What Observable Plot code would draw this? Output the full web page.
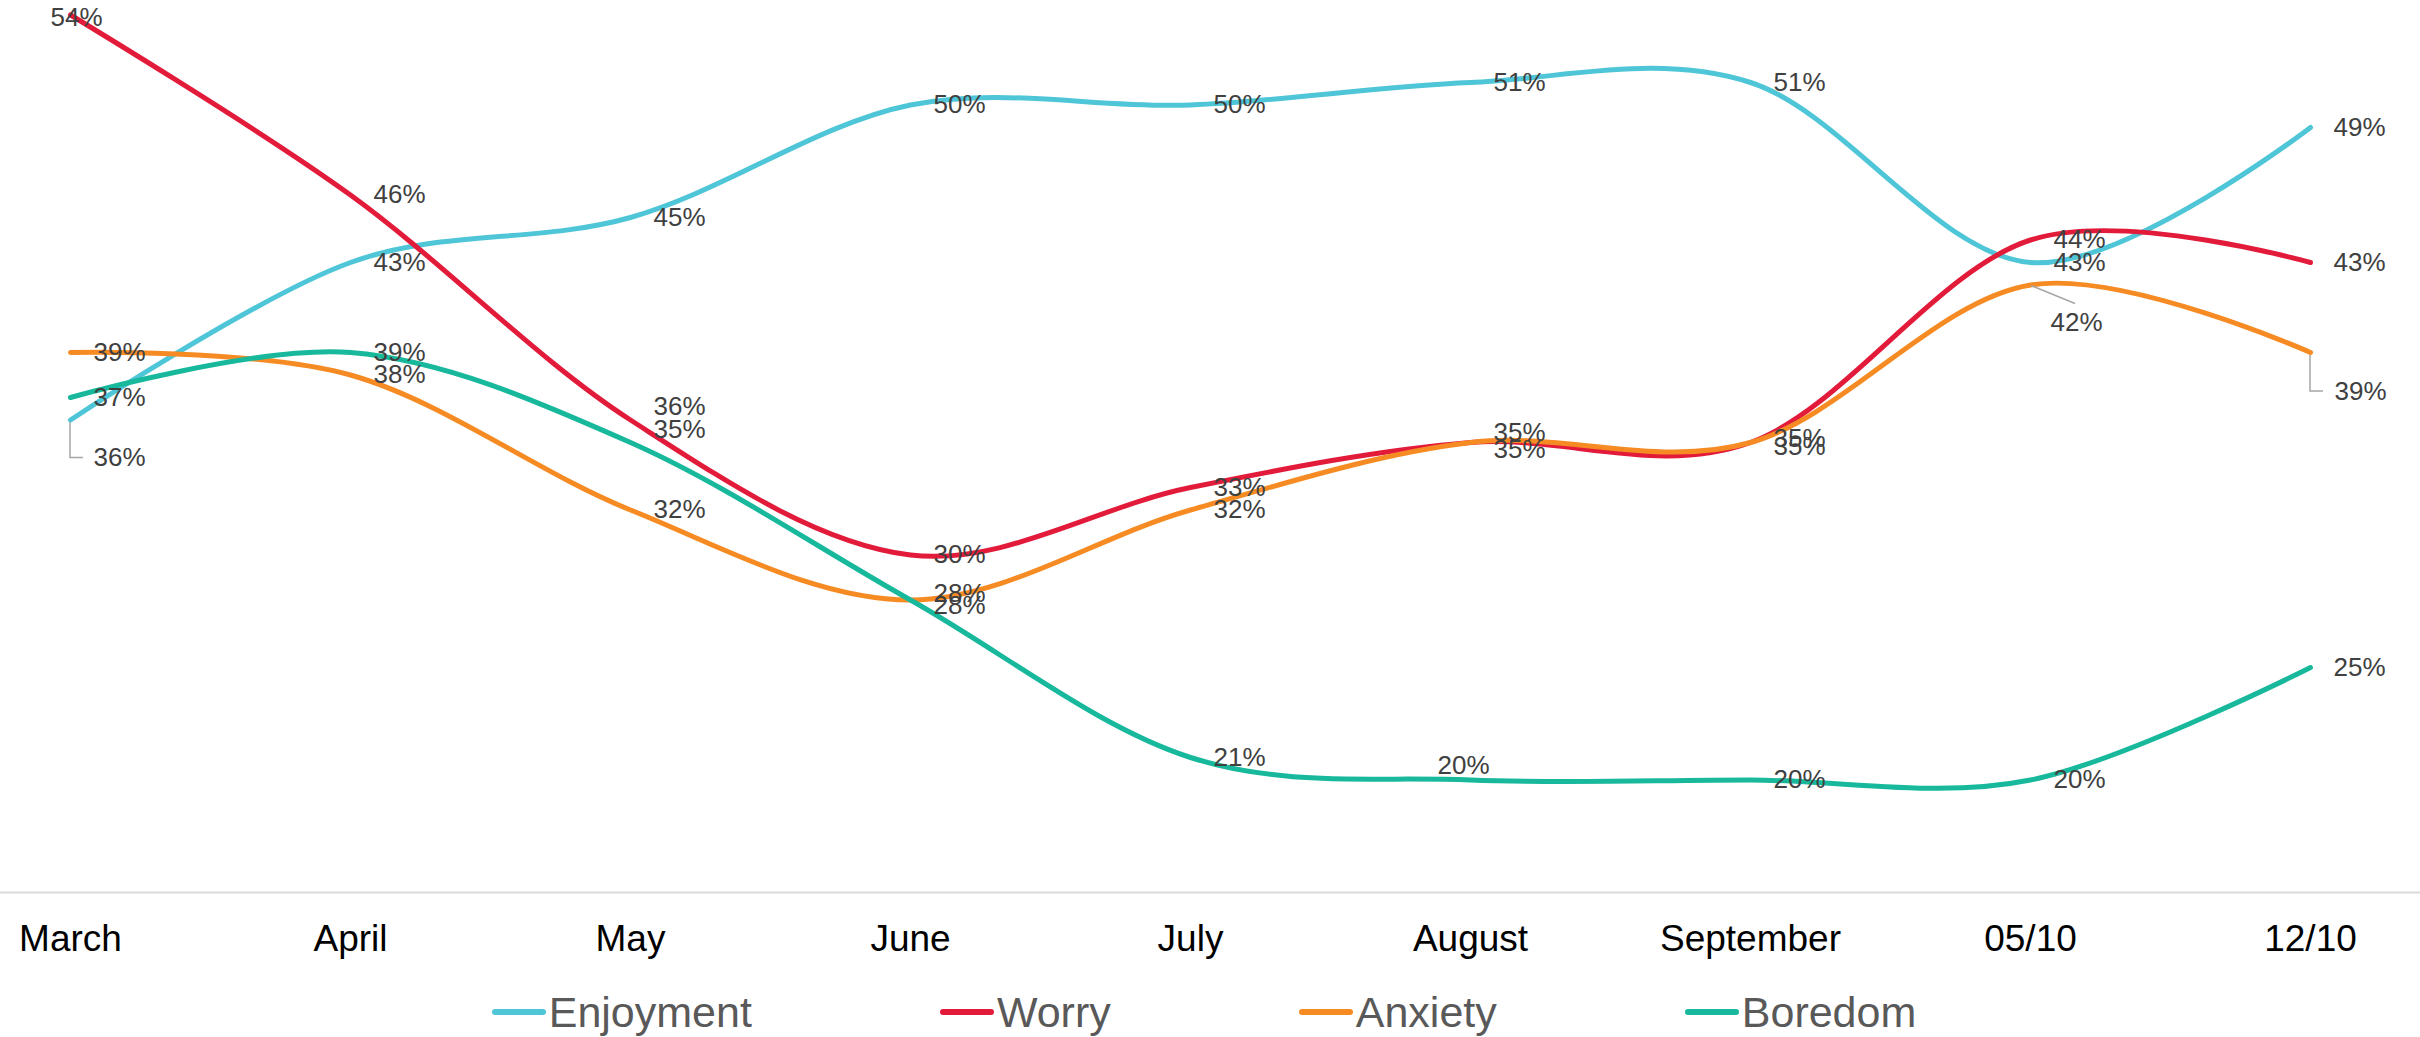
<!DOCTYPE html>
<html>
<head>
<meta charset="utf-8">
<script src="https://cdn.jsdelivr.net/npm/d3@7"></script>
<script src="https://cdn.jsdelivr.net/npm/@observablehq/plot@0.6"></script>
<style>
  html, body { margin: 0; padding: 0; background: #fff; }
  body { width: 2420px; height: 1037px; position: relative; overflow: hidden;
         font-family: 'Liberation Sans', Arial, sans-serif; }
  #legend { position: absolute; left: 0; top: 987px; width: 2420px; height: 50px;
            display: flex; justify-content: center; align-items: center; gap: 188px;
            transform: translateX(-6px); }
  .item { display: flex; align-items: center; font-size: 43px; color: #595959; }
  .sw { width: 54px; height: 6px; border-radius: 3px; margin-right: 3px; }
</style>
</head>
<body>
<div id="chart"></div>
<div id="legend"></div>
<script>
// ---- data ----
const months = ["March", "April", "May", "June", "July", "August", "September", "05/10", "12/10"];
const seriesNames = ["Enjoyment", "Worry", "Anxiety", "Boredom"];
const enjoyment = [36, 43, 45, 50, 50, 51, 51, 43, 49];
const worry     = [54, 46, 36, 30, 33, 35, 35, 44, 43];
const anxiety   = [39, 38, 32, 28, 32, 35, 35, 42, 39];
const boredom   = [37, 39, 35, 28, 21, 20, 20, 20, 25];

// ---- styles ----
const colors = ["#4EC6D8", "#E31B3B", "#F68B24", "#17B89B"];
const seriesValues = [enjoyment, worry, anxiety, boredom];

const rows = [];
seriesNames.forEach((s, i) => months.forEach((m, j) => rows.push({series: s, month: m, value: seriesValues[i][j]})));

// label placement (offsets in px relative to the data point)
const nudges = {
  "Worry|March": {dx: 6, dy: 3, textAnchor: "middle"},
  "Enjoyment|March": {dx: 23, dy: 38, textAnchor: "start", leader: "elbow"},
  "Worry|May": {dx: 23, dy: -13, textAnchor: "start"},
  "Boredom|May": {dx: 23, dy: -13, textAnchor: "start"},
  "Anxiety|June": {dx: 23, dy: -6, textAnchor: "start"},
  "Boredom|June": {dx: 23, dy: 6, textAnchor: "start"},
  "Worry|August": {dx: 23, dy: -10, textAnchor: "start"},
  "Anxiety|August": {dx: 23, dy: 7, textAnchor: "start"},
  "Worry|September": {dx: 23, dy: -4, textAnchor: "start"},
  "Anxiety|September": {dx: 23, dy: 4, textAnchor: "start"},
  "Boredom|August": {dx: -7, dy: -14, textAnchor: "middle"},
  "Anxiety|05/10": {dx: 20, dy: 38, textAnchor: "start", leader: "diag"},
  "Anxiety|12/10": {dx: 24, dy: 39, textAnchor: "start", leader: "elbow"}
};
const place = d => nudges[d.series + "|" + d.month] || {dx: 23, dy: 0, textAnchor: "start"};

const labelMarks = rows.map(d => {
  const p = place(d);
  return Plot.text([d], {
    x: "month", y: "value", text: r => r.value + "%",
    dx: p.dx, dy: p.dy || 0, textAnchor: p.textAnchor,
    fill: "#404040", fontSize: 26
  });
});

const chart = Plot.plot({
  width: 2420,
  height: 975,
  marginLeft: 0,
  marginRight: 0,
  marginTop: 0,
  marginBottom: 83,
  style: {fontFamily: "'Liberation Sans', Arial, sans-serif", background: "#fff", color: "#000", overflow: "visible"},
  x: {type: "point", domain: months, range: [68, 2312], padding: 0, label: null},
  y: {domain: [15, 55], range: [892, -8], axis: null},
  color: {domain: seriesNames, range: colors},
  marks: [
    Plot.ruleY([15], {stroke: "#D9D9D9", strokeWidth: 2}),
    ...seriesNames.map(s => Plot.line(rows.filter(r => r.series === s), {
      x: "month", y: "value", stroke: "series",
      strokeWidth: 5, curve: "cardinal", tension: 0,
      strokeLinecap: "round", strokeLinejoin: "round"
    })),
    ...labelMarks,
    Plot.axisX({anchor: "bottom", tickSize: 0, tickPadding: 32, fontSize: 37, fill: "#000", label: null})
  ]
});
document.getElementById("chart").appendChild(chart);

// leader lines, positioned through Plot's scales
const xs = chart.scale("x"), ys = chart.scale("y");
const svg = d3.select(chart);
rows.forEach(d => {
  const p = place(d);
  if (!p.leader) return;
  const x = xs.apply(d.month), y = ys.apply(d.value);
  let path;
  if (p.leader === "elbow") path = `M${x},${y + 3}L${x},${y + p.dy}L${x + 13},${y + p.dy}`;
  else path = `M${x + 1},${y + 1}L${x + 45},${y + 19}`;
  svg.append("path").attr("d", path).attr("fill", "none")
    .attr("stroke", "#A6A6A6").attr("stroke-width", 1.5);
});

// legend
const legend = d3.select("#legend");
seriesNames.forEach((s, i) => {
  const it = legend.append("div").attr("class", "item");
  it.append("div").attr("class", "sw").style("background", colors[i]);
  it.append("span").text(s);
});
</script>
</body>
</html>
